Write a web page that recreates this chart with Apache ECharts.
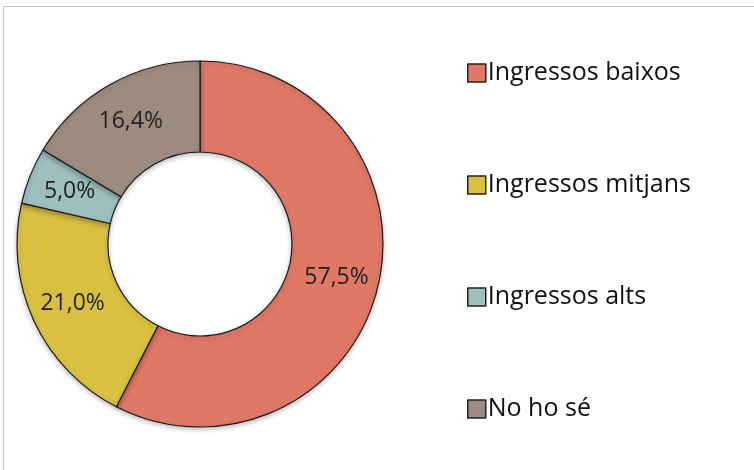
<!DOCTYPE html>
<html>
<head>
<meta charset="utf-8">
<script src="https://cdn.jsdelivr.net/npm/echarts@6/dist/echarts.min.js"></script>
<style>
    html, body { margin: 0; padding: 0; background: #fff; overflow: hidden; }
    #frame {
        position: absolute; left: 3px; top: 6px; width: 800px; height: 500px;
        border-top: 1px solid #c4c4c4; border-left: 1px solid #c4c4c4;
    }
    #chart { position: absolute; left: 0; top: 0; width: 754px; height: 470px; }
</style>
</head>
<body>
<div id="frame"></div>
<div id="chart"></div>
<script>
    // dades del gràfic
    const categories = ['Ingressos baixos', 'Ingressos mitjans', 'Ingressos alts', 'No ho sé'];
    const values = [57.5, 21.0, 5.0, 16.4];
    const colors = ['#e07866', '#d9c041', '#9dbfbe', '#9e8b80'];

    let chart = echarts.init(document.getElementById('chart'));
    chart.setOption({
        animation: false,
        color: colors,
        legend: {
            orient: 'vertical',
            left: 462,
            top: 55,
            itemWidth: 18,
            itemHeight: 18,
            itemGap: 86,
            icon: 'rect',
            itemStyle: {
                borderColor: '#222',
                borderWidth: 1.5
            },
            textStyle: {
                fontFamily: 'Open Sans',
                fontSize: 25,
                color: '#111',
                lineHeight: 26,
                padding: [0, 0, 0, -3]
            },
            data: categories
        },
        series: [
            {
                type: 'pie',
                center: [200, 244],
                radius: [92, 183],
                startAngle: 90,
                clockwise: true,
                avoidLabelOverlap: false,
                itemStyle: {
                    borderColor: '#1a1a1a',
                    borderWidth: 1.2,
                    shadowBlur: 5,
                    shadowOffsetY: 2,
                    shadowColor: 'rgba(0,0,0,0.25)'
                },
                label: {
                    show: true,
                    position: 'inside',
                    fontFamily: 'Open Sans',
                    fontSize: 23,
                    color: '#222',
                    formatter: function (p) {
                        return p.value.toFixed(1).replace('.', ',') + '%';
                    }
                },
                labelLine: { show: false },
                emphasis: { disabled: true },
                data: categories.map(function (c, i) {
                    return { name: c, value: values[i] };
                })
            }
        ]
    });
</script>
</body>
</html>
